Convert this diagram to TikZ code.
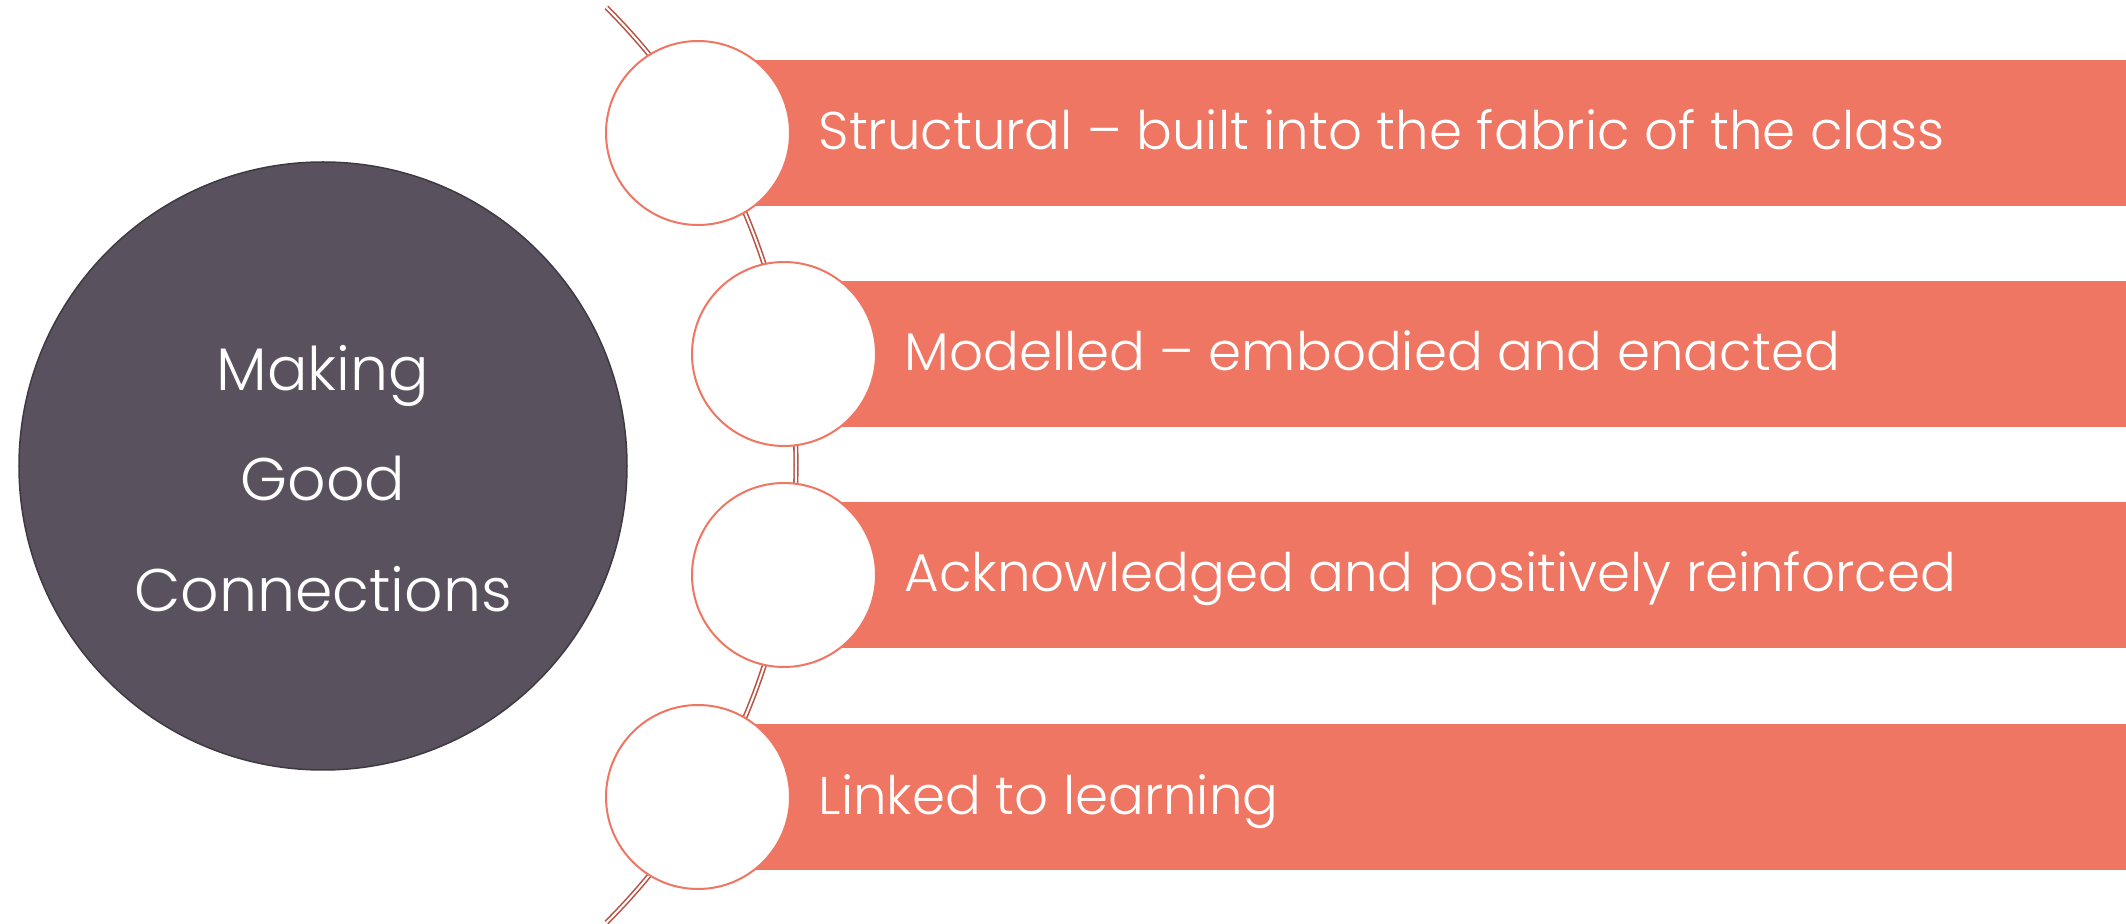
\documentclass[tikz,border=0pt]{standalone}
\usepackage{fontspec}
\setmainfont{Poppins Light}
\usetikzlibrary{positioning,calc}
\definecolor{barsalmon}{RGB}{238,118,98}
\definecolor{arcred}{RGB}{184,84,68}
\definecolor{hubgrey}{RGB}{90,81,94}
\tikzset{
  hub/.style={circle,fill=hubgrey,draw=hubgrey!70!black,line width=0.015cm,minimum size=6.08cm,inner sep=0pt},
  dot/.style={circle,fill=white,draw=barsalmon,line width=0.02cm,minimum size=1.84cm,inner sep=0pt},
  bar/.style={rectangle,fill=barsalmon,minimum height=1.46cm,inner sep=0pt,anchor=west},
  item/.style={text=white,anchor=base west,inner sep=0pt,font=\fontsize{15.1}{18}\selectfont},
  hubtext/.style={text=white,align=center,inner sep=0pt,font=\fontsize{17.1}{31.4}\selectfont},
  spine/.style={draw=arcred,double=white,line width=0.016cm,double distance=0.02cm}
}

\begin{document}
\begin{tikzpicture}
    \def\W{21.26}
    \def\R{6.47}
    \useasboundingbox (0,0) rectangle (\W,9.23);

    % big circle
    \node[hub] (hub) at (3.23,4.57) {};
    \node[hubtext] (hubtext) at ([yshift=-0.124cm]hub.center) {Making\\Good\\Connections};

    % arc behind the small circles
    \coordinate (arcc) at (1.49,4.58);
    \coordinate (arctop) at ($(arcc)+(45:\R)$);
    \draw[spine] (arctop) arc[start angle=45,end angle=-45,radius=\R];

    % centres of the small circles
    \coordinate (p1) at (6.98,7.90);
    \coordinate (p2) at (7.84,5.69);
    \coordinate (p3) at (7.84,3.48);
    \coordinate (p4) at (6.98,1.26);

    % bars
    \node[bar,minimum width=14.28cm] (b1) at (p1) {};
    \node[bar,minimum width=13.42cm] (b2) at (p2) {};
    \node[bar,minimum width=13.42cm] (b3) at (p3) {};
    \node[bar,minimum width=14.28cm] (b4) at (p4) {};

    % small circles
    \node[dot] (c1) at (p1) {};
    \node[dot] (c2) at (p2) {};
    \node[dot] (c3) at (p3) {};
    \node[dot] (c4) at (p4) {};

    % texts
    \node[item] (t1) at ([xshift=1.2cm,yshift=-0.17cm]c1.center) {Structural – built into the fabric of the class};
    \node[item] (t2) at ([xshift=1.2cm,yshift=-0.17cm]c2.center) {Modelled – embodied and enacted};
    \node[item] (t3) at ([xshift=1.2cm,yshift=-0.17cm]c3.center) {Acknowledged and positively reinforced};
    \node[item] (t4) at ([xshift=1.2cm,yshift=-0.17cm]c4.center) {Linked to learning};
\end{tikzpicture}
\end{document}
